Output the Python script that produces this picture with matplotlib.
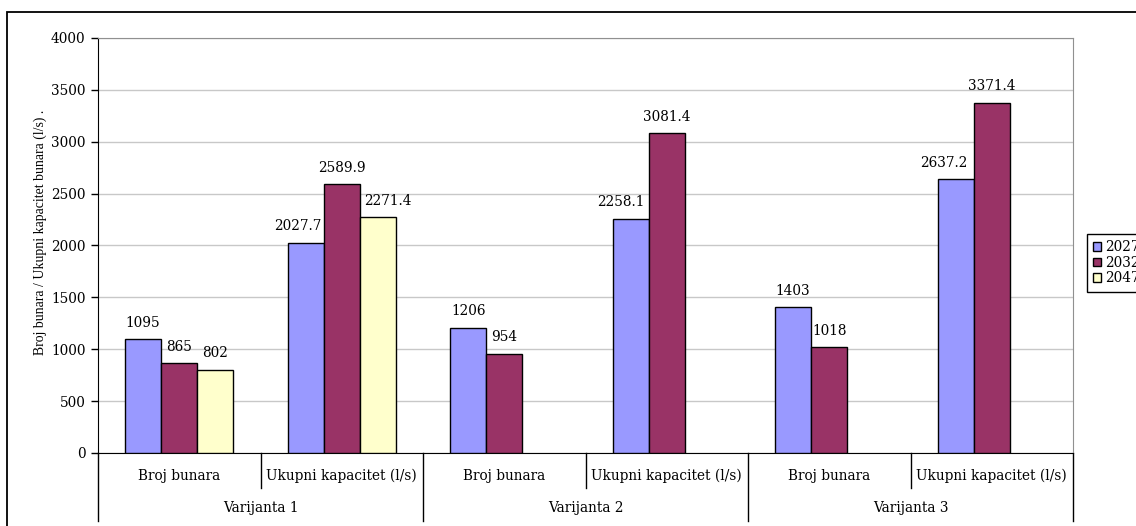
import numpy as np
import matplotlib
matplotlib.use('Agg')
import matplotlib.pyplot as plt
from matplotlib.patches import Rectangle
from matplotlib.lines import Line2D

plt.rcParams['font.family'] = ['DejaVu Serif']

varijante = ['Varijanta 1', 'Varijanta 2', 'Varijanta 3']
podkategorije = ['Broj bunara', 'Ukupni kapacitet (l/s)']
godine = ['2027', '2032', '2047']
boje = ['#9999FF', '#993366', '#FFFFCC']

# redoslijed: V1 broj, V1 kap, V2 broj, V2 kap, V3 broj, V3 kap
v2027 = [1095, 2027.7, 1206, 2258.1, 1403, 2637.2]
v2032 = [865, 2589.9, 954, 3081.4, 1018, 3371.4]
v2047 = [802, 2271.4, None, None, None, None]
oznake2027 = ['1095', '2027.7', '1206', '2258.1', '1403', '2637.2']
oznake2032 = ['865', '2589.9', '954', '3081.4', '1018', '3371.4']
oznake2047 = ['802', '2271.4', '', '', '', '']

serije = [v2027, v2032, v2047]
oznake = [oznake2027, oznake2032, oznake2047]

W, H = 1136, 526
fs = 9.8
fig = plt.figure(figsize=(W / 100, H / 100), dpi=100)
ax = fig.add_axes([98 / W, 1 - 453 / H, (1073 - 98) / W, (453 - 38) / H])

# pomak oznaka (px) da se ne preklapaju sa susjednim stupcem, kao u Excelu
pomak = {(0, 1): -8, (2, 1): 10, (0, 3): -10, (0, 5): -12}

n = 6
x = np.arange(n)
bw = 0.222
for i, (vals, lab) in enumerate(zip(serije, oznake)):
    xs = [xx + (i - 1) * bw for xx, v in zip(x, vals) if v is not None]
    ys = [v for v in vals if v is not None]
    ax.bar(xs, ys, width=bw, color=boje[i], edgecolor='black', linewidth=1.0,
           label=godine[i], zorder=3)
    for k, (xx, v, t) in enumerate(zip(x, vals, lab)):
        if v is None:
            continue
        dx = pomak.get((i, k), 0) * 0.72
        ax.annotate(t, (xx + (i - 1) * bw, v), xytext=(dx, 7),
                    textcoords='offset points', ha='center', va='bottom',
                    fontsize=fs)

ax.set_xlim(-0.5, n - 0.5)
ax.set_ylim(0, 4000)
ax.set_yticks(np.arange(0, 4001, 500))
ax.tick_params(axis='y', direction='out', length=5, width=1, labelsize=fs, pad=4)
ax.set_xticks([])
ax.yaxis.grid(True, color='#C8C8C8', linewidth=1)
ax.set_axisbelow(True)
for s in ['top', 'right']:
    ax.spines[s].set_color('#909090')
ax.spines['left'].set_color('black')
ax.spines['bottom'].set_color('black')

# kategorije na x osi
trans = ax.get_xaxis_transform()
for k in range(n):
    ax.text(k, -0.055, podkategorije[k % 2], transform=trans, ha='center',
            va='center', fontsize=fs)
for g in range(3):
    ax.text(2 * g + 0.5, -0.132, varijante[g], transform=trans, ha='center',
            va='center', fontsize=fs)
for k in range(n + 1):
    xb = k - 0.5
    y1 = -0.165 if k % 2 == 0 else -0.085
    ax.add_line(Line2D([xb, xb], [0, y1], transform=trans, color='black',
                       linewidth=1, clip_on=False))

fig.text(40 / W, 1 - 232 / H, 'Broj bunara / Ukupni kapacitet bunara (l/s) .',
         rotation=90, ha='center', va='center', fontsize=9.9,
         family='Liberation Serif')

leg = ax.legend(loc='upper left', bbox_to_anchor=(1087 / W, 1 - 234 / H),
                bbox_transform=fig.transFigure, fontsize=fs, frameon=True,
                fancybox=False, edgecolor='black', framealpha=1,
                handlelength=0.6, handleheight=0.6, handletextpad=0.3,
                borderpad=0.45, labelspacing=0.12, borderaxespad=0)
leg.get_frame().set_linewidth(1)

fig.patches.append(Rectangle((7 / W, -0.1), 1.1, 1.1 - 12 / H,
                             transform=fig.transFigure, fill=False,
                             edgecolor='black', linewidth=1.3))

fig.savefig('out.png', dpi=100)
